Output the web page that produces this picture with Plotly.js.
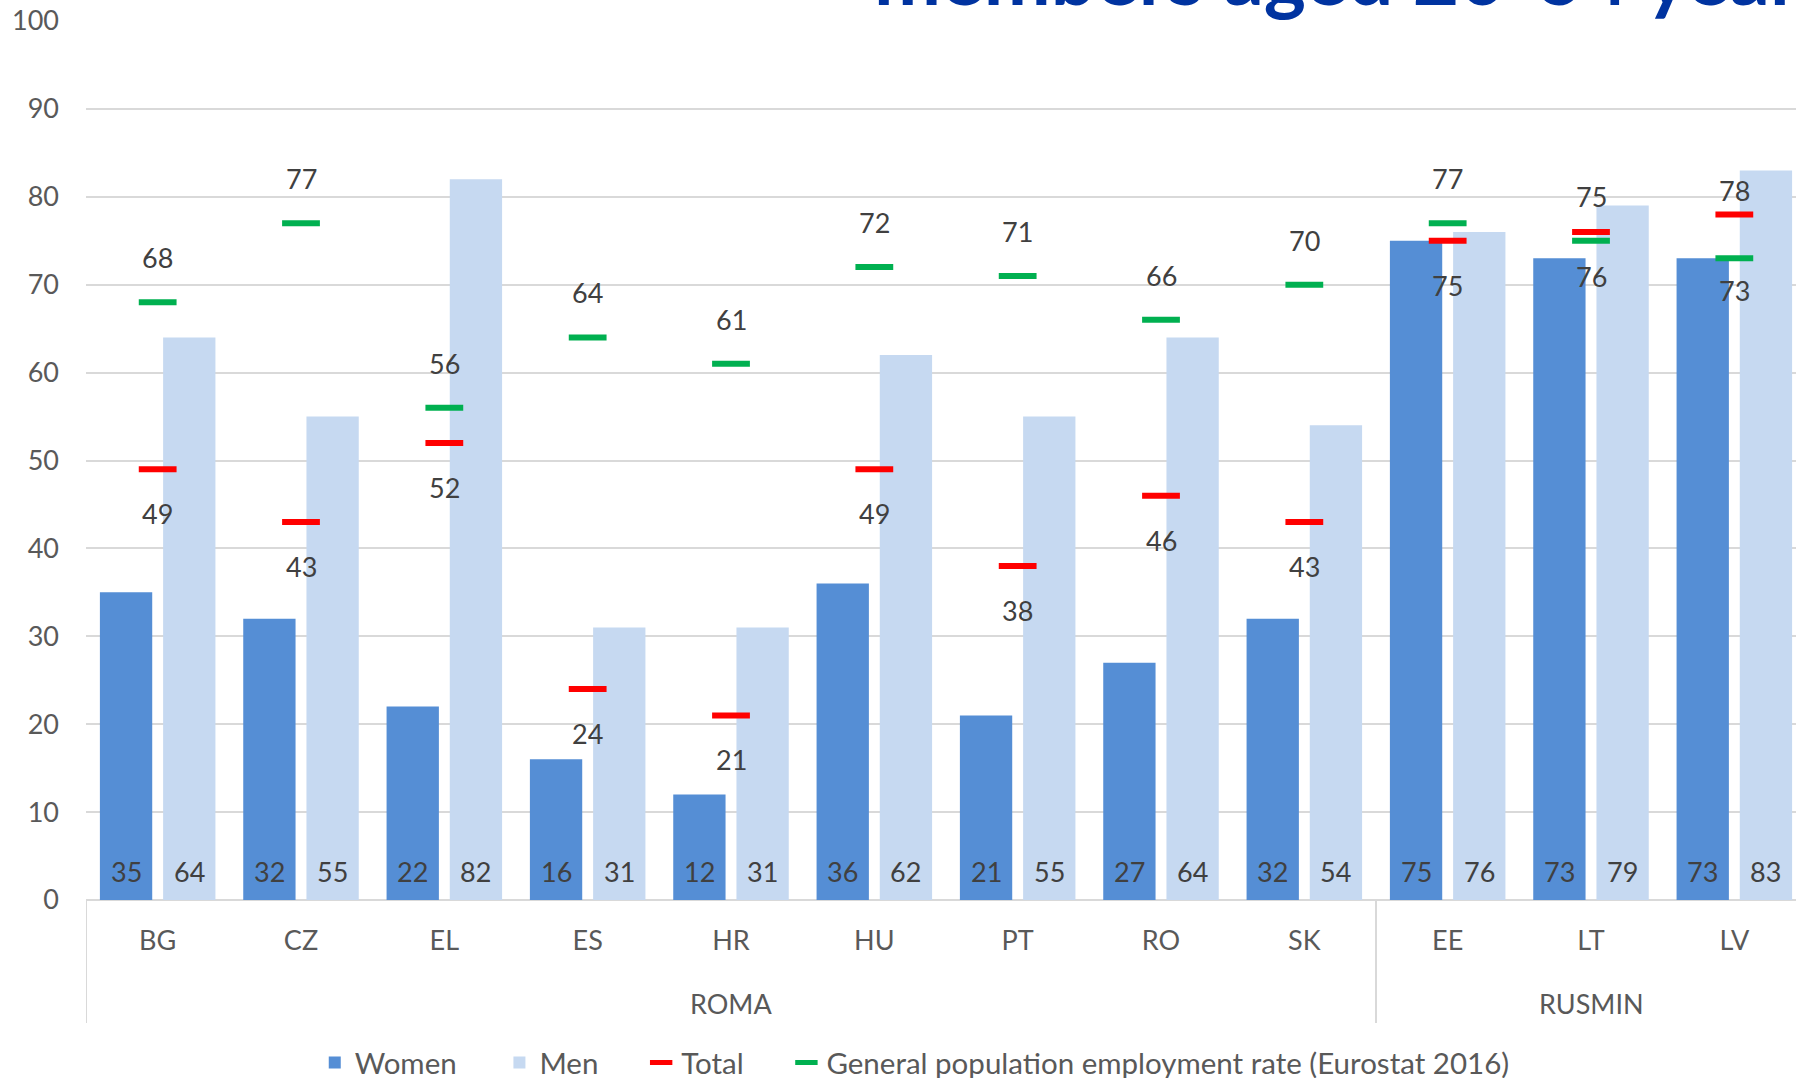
<!DOCTYPE html>
<html>
<head>
<meta charset="utf-8">
<script src="https://cdn.plot.ly/plotly-3.0.1.min.js"></script>
<style>
  html, body { margin: 0; padding: 0; overflow: hidden; background: #ffffff; }
  #chart { width: 1806px; height: 1100px; }
</style>
</head>
<body>
<div id="chart"></div>
<script>
// Employment rates (%) by country, population group and sex
const countries = ['BG', 'CZ', 'EL', 'ES', 'HR', 'HU', 'PT', 'RO', 'SK', 'EE', 'LT', 'LV'];
const groupNames = ['ROMA', 'RUSMIN'];
const countryGroup = ['ROMA', 'ROMA', 'ROMA', 'ROMA', 'ROMA', 'ROMA', 'ROMA', 'ROMA', 'ROMA', 'RUSMIN', 'RUSMIN', 'RUSMIN'];
const women = [35, 32, 22, 16, 12, 36, 21, 27, 32, 75, 73, 73];
const men = [64, 55, 82, 31, 31, 62, 55, 64, 54, 76, 79, 83];
const total = [49, 43, 52, 24, 21, 49, 38, 46, 43, 75, 76, 78];
const generalPop = [68, 77, 56, 64, 61, 72, 71, 66, 70, 77, 75, 73];
const yTicks = [0, 10, 20, 30, 40, 50, 60, 70, 80, 90, 100];

const FONT = 'Lato, "Open Sans", sans-serif';
const LABEL_COLOR = '#404040';
const AXIS_COLOR = '#595959';
const GRID = '#D9D9D9';

const xIdx = countries.map((_, i) => i);

const BAR_W = 0.365;
const WOMEN_OFF = -0.403;
const MEN_OFF = 0.038;

// extra room after each legend entry
const PAD = '\u00A0'.repeat(5);

const traces = [
  {
    type: 'bar', name: 'Women' + PAD, x: xIdx, y: women,
    width: BAR_W, offset: WOMEN_OFF,
    marker: { color: '#558ED5' },
    hoverinfo: 'y'
  },
  {
    type: 'bar', name: 'Men' + PAD, x: xIdx, y: men,
    width: BAR_W, offset: MEN_OFF,
    marker: { color: '#C6D9F1' },
    hoverinfo: 'y'
  },
  {
    type: 'scatter', mode: 'markers', name: 'Total' + PAD, x: xIdx, y: total,
    marker: { symbol: 'line-ew', size: 27, color: '#FF0000', line: { width: 6, color: '#FF0000' } },
    hoverinfo: 'y'
  },
  {
    type: 'scatter', mode: 'markers', name: 'General population employment rate (Eurostat 2016)',
    x: xIdx, y: generalPop,
    marker: { symbol: 'line-ew', size: 27, color: '#00B050', line: { width: 6, color: '#00B050' } },
    hoverinfo: 'y'
  }
];

const annotations = [];
const labelFont = { family: FONT, size: 27, color: LABEL_COLOR };

// value labels sitting at the foot of each bar
xIdx.forEach(i => {
  annotations.push({
    x: i + WOMEN_OFF + BAR_W / 2, y: 0, xref: 'x', yref: 'y',
    text: String(women[i]), showarrow: false, yanchor: 'middle', yshift: 29, font: labelFont
  });
  annotations.push({
    x: i + MEN_OFF + BAR_W / 2, y: 0, xref: 'x', yref: 'y',
    text: String(men[i]), showarrow: false, yanchor: 'middle', yshift: 29, font: labelFont
  });
});

// labels for the total (below) and general population (above) markers
xIdx.forEach(i => {
  const swap = countries[i] === 'LV';
  annotations.push({
    x: i, y: generalPop[i], xref: 'x', yref: 'y',
    text: String(generalPop[i]), showarrow: false, yanchor: 'middle',
    yshift: swap ? -32 : 44.5, font: labelFont
  });
  annotations.push({
    x: i, y: total[i], xref: 'x', yref: 'y',
    text: String(total[i]), showarrow: false, yanchor: 'middle',
    yshift: swap ? 24 : -44.5, font: labelFont
  });
});

// group labels and dividers below the country labels
const shapes = [];
groupNames.forEach(g => {
  const members = xIdx.filter(i => countryGroup[i] === g);
  const first = Math.min(...members);
  const last = Math.max(...members);
  annotations.push({
    x: (first + last) / 2, y: 0, xref: 'x', yref: 'paper',
    text: g, showarrow: false, yanchor: 'middle', yshift: -103,
    font: { family: FONT, size: 27, color: AXIS_COLOR }
  });
  shapes.push({
    type: 'line', xref: 'x', yref: 'paper',
    x0: first - 0.5, x1: first - 0.5, y0: 0, y1: -0.14,
    line: { color: GRID, width: 2 }
  });
});

// chart heading
annotations.push({
  x: 0.457, y: 1, xref: 'paper', yref: 'paper',
  xanchor: 'left', yanchor: 'bottom', yshift: -3.5, showarrow: false,
  text: '<b>members aged 20-64 years</b>',
  font: { family: FONT, size: 80, color: '#0033A0' }
});

const layout = {
  width: 1806,
  height: 1100,
  margin: { l: 86, r: 0, t: 21, b: 200 },
  paper_bgcolor: '#ffffff',
  plot_bgcolor: '#ffffff',
  barmode: 'overlay',
  showlegend: true,
  font: { family: FONT, size: 27, color: AXIS_COLOR },
  xaxis: {
    range: [-0.5, countries.length - 0.5],
    tickmode: 'array', tickvals: xIdx, ticktext: countries,
    showgrid: false, zeroline: false, showline: false, ticks: '',
    ticklabelstandoff: 22,
    tickfont: { family: FONT, size: 27, color: AXIS_COLOR }
  },
  yaxis: {
    range: [0, 100],
    tickmode: 'array', tickvals: yTicks,
    showgrid: true, gridcolor: GRID, gridwidth: 2,
    zeroline: true, zerolinecolor: GRID, zerolinewidth: 2,
    showline: false, ticks: '',
    ticklabelstandoff: 26,
    tickfont: { family: FONT, size: 27, color: AXIS_COLOR }
  },
  legend: {
    orientation: 'h',
    x: 0.133, xanchor: 'left',
    y: -0.1852, yanchor: 'middle',
    font: { family: FONT, size: 29.5, color: AXIS_COLOR },
    traceorder: 'normal',
    itemclick: false, itemdoubleclick: false
  },
  annotations: annotations,
  shapes: shapes
};

Plotly.newPlot('chart', traces, layout, { displayModeBar: false, staticPlot: true });
</script>
</body>
</html>
